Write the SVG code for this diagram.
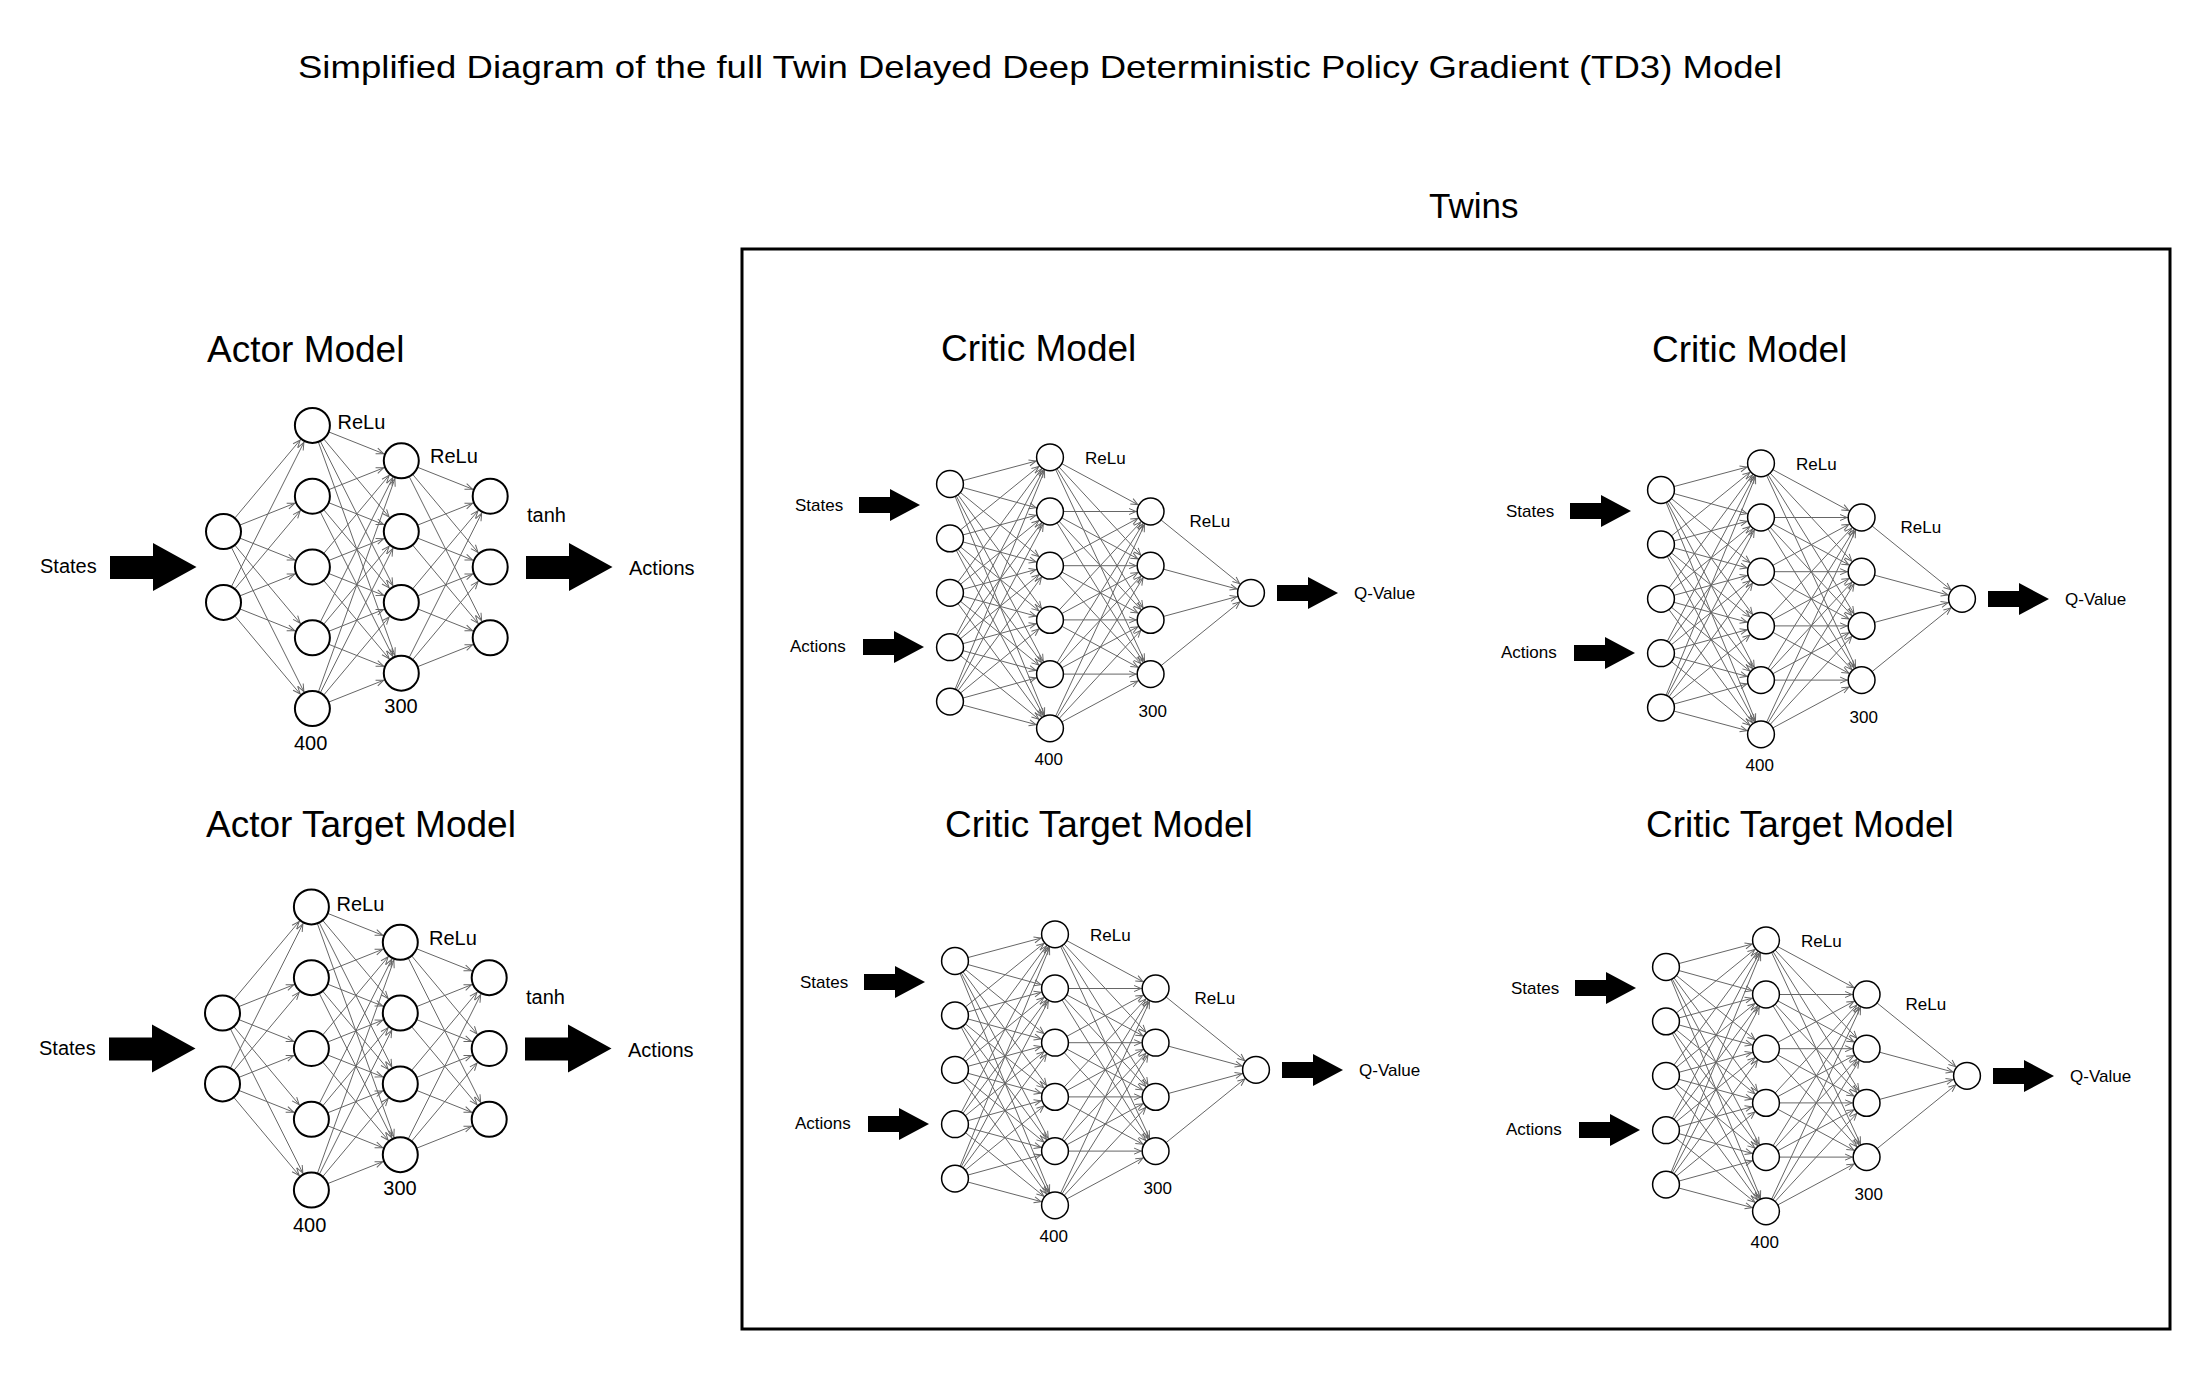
<svg xmlns="http://www.w3.org/2000/svg" width="2212" height="1386" viewBox="0 0 2212 1386">
<style>
text{font-family:"Liberation Sans",Arial,sans-serif;fill:#000}
.title{font-size:32px}
.head{font-size:37px}
.la{font-size:20px}
.lc{font-size:17px}
.conn path{stroke:#666;stroke-width:1;fill:none}
.ca path{marker-end:url(#ma)}
.cc path{marker-end:url(#mc)}
.na circle{fill:#fff;stroke:#000;stroke-width:2}
.nc circle{fill:#fff;stroke:#000;stroke-width:1.5}
.bigarrow{fill:#000}
</style>
<defs>
<marker id="ma" viewBox="-30 -6 30 12" markerWidth="30" markerHeight="12" refX="0" refY="0" orient="auto" markerUnits="userSpaceOnUse" overflow="visible">
<path d="M-26.5,-3 L-19,0 L-26.5,3" fill="none" stroke="#666" stroke-width="1"/>
</marker>
<marker id="mc" viewBox="-30 -6 30 12" markerWidth="30" markerHeight="12" refX="0" refY="0" orient="auto" markerUnits="userSpaceOnUse" overflow="visible">
<path d="M-21.5,-3 L-14.5,0 L-21.5,3" fill="none" stroke="#666" stroke-width="1"/>
</marker>
<polygon id="arA" points="110,556 153,556 153,543 196.5,567 153,591 153,579 110,579"/>
<polygon id="arC" points="0,-8 31,-8 31,-16 61,0 31,16 31,8 0,8"/>
</defs>
<rect width="2212" height="1386" fill="#fff"/>

<text class="title" x="298" y="78" textLength="1484" lengthAdjust="spacingAndGlyphs">Simplified Diagram of the full Twin Delayed Deep Deterministic Policy Gradient (TD3) Model</text>
<text class="head" x="1429" y="218" style="font-size:35px">Twins</text>
<rect id="twins-box" x="742" y="249" width="1428" height="1080" fill="none" stroke="#000" stroke-width="3"/>
<text class="head" x="207" y="362">Actor Model</text>
<text class="head" x="206" y="837">Actor Target Model</text>
<text class="head" x="941" y="361">Critic Model</text>
<text class="head" x="1652" y="362">Critic Model</text>
<text class="head" x="945" y="837">Critic Target Model</text>
<text class="head" x="1646" y="837">Critic Target Model</text>

<g id="connectors" class="conn">
<g id="actor-connectors" class="ca">
<path d="M223.5 531.6 312.4 425.4"/><path d="M223.5 531.6 312.4 496.2"/><path d="M223.5 531.6 312.4 567"/><path d="M223.5 531.6 312.4 637.8"/><path d="M223.5 531.6 312.4 708.6"/>
<path d="M223.5 602.4 312.4 425.4"/><path d="M223.5 602.4 312.4 496.2"/><path d="M223.5 602.4 312.4 567"/><path d="M223.5 602.4 312.4 637.8"/><path d="M223.5 602.4 312.4 708.6"/>
<path d="M312.4 425.4 401.3 460.8"/><path d="M312.4 425.4 401.3 531.6"/><path d="M312.4 425.4 401.3 602.4"/><path d="M312.4 425.4 401.3 673.2"/>
<path d="M312.4 496.2 401.3 460.8"/><path d="M312.4 496.2 401.3 531.6"/><path d="M312.4 496.2 401.3 602.4"/><path d="M312.4 496.2 401.3 673.2"/>
<path d="M312.4 567 401.3 460.8"/><path d="M312.4 567 401.3 531.6"/><path d="M312.4 567 401.3 602.4"/><path d="M312.4 567 401.3 673.2"/>
<path d="M312.4 637.8 401.3 460.8"/><path d="M312.4 637.8 401.3 531.6"/><path d="M312.4 637.8 401.3 602.4"/><path d="M312.4 637.8 401.3 673.2"/>
<path d="M312.4 708.6 401.3 460.8"/><path d="M312.4 708.6 401.3 531.6"/><path d="M312.4 708.6 401.3 602.4"/><path d="M312.4 708.6 401.3 673.2"/>
<path d="M401.3 460.8 490.2 496.2"/><path d="M401.3 460.8 490.2 567"/><path d="M401.3 460.8 490.2 637.8"/>
<path d="M401.3 531.6 490.2 496.2"/><path d="M401.3 531.6 490.2 567"/><path d="M401.3 531.6 490.2 637.8"/>
<path d="M401.3 602.4 490.2 496.2"/><path d="M401.3 602.4 490.2 567"/><path d="M401.3 602.4 490.2 637.8"/>
<path d="M401.3 673.2 490.2 496.2"/><path d="M401.3 673.2 490.2 567"/><path d="M401.3 673.2 490.2 637.8"/>
</g>
<g id="actor-target-connectors" class="ca" transform="translate(-1,481.5)">
<path d="M223.5 531.6 312.4 425.4"/><path d="M223.5 531.6 312.4 496.2"/><path d="M223.5 531.6 312.4 567"/><path d="M223.5 531.6 312.4 637.8"/><path d="M223.5 531.6 312.4 708.6"/>
<path d="M223.5 602.4 312.4 425.4"/><path d="M223.5 602.4 312.4 496.2"/><path d="M223.5 602.4 312.4 567"/><path d="M223.5 602.4 312.4 637.8"/><path d="M223.5 602.4 312.4 708.6"/>
<path d="M312.4 425.4 401.3 460.8"/><path d="M312.4 425.4 401.3 531.6"/><path d="M312.4 425.4 401.3 602.4"/><path d="M312.4 425.4 401.3 673.2"/>
<path d="M312.4 496.2 401.3 460.8"/><path d="M312.4 496.2 401.3 531.6"/><path d="M312.4 496.2 401.3 602.4"/><path d="M312.4 496.2 401.3 673.2"/>
<path d="M312.4 567 401.3 460.8"/><path d="M312.4 567 401.3 531.6"/><path d="M312.4 567 401.3 602.4"/><path d="M312.4 567 401.3 673.2"/>
<path d="M312.4 637.8 401.3 460.8"/><path d="M312.4 637.8 401.3 531.6"/><path d="M312.4 637.8 401.3 602.4"/><path d="M312.4 637.8 401.3 673.2"/>
<path d="M312.4 708.6 401.3 460.8"/><path d="M312.4 708.6 401.3 531.6"/><path d="M312.4 708.6 401.3 602.4"/><path d="M312.4 708.6 401.3 673.2"/>
<path d="M401.3 460.8 490.2 496.2"/><path d="M401.3 460.8 490.2 567"/><path d="M401.3 460.8 490.2 637.8"/>
<path d="M401.3 531.6 490.2 496.2"/><path d="M401.3 531.6 490.2 567"/><path d="M401.3 531.6 490.2 637.8"/>
<path d="M401.3 602.4 490.2 496.2"/><path d="M401.3 602.4 490.2 567"/><path d="M401.3 602.4 490.2 637.8"/>
<path d="M401.3 673.2 490.2 496.2"/><path d="M401.3 673.2 490.2 567"/><path d="M401.3 673.2 490.2 637.8"/>
</g>
<g id="critic1-connectors" class="cc">
<path d="M950 484 1050 457.3"/><path d="M950 484 1050 511.5"/><path d="M950 484 1050 565.7"/><path d="M950 484 1050 619.9"/><path d="M950 484 1050 674.1"/><path d="M950 484 1050 728.3"/>
<path d="M950 538.4 1050 457.3"/><path d="M950 538.4 1050 511.5"/><path d="M950 538.4 1050 565.7"/><path d="M950 538.4 1050 619.9"/><path d="M950 538.4 1050 674.1"/><path d="M950 538.4 1050 728.3"/>
<path d="M950 592.8 1050 457.3"/><path d="M950 592.8 1050 511.5"/><path d="M950 592.8 1050 565.7"/><path d="M950 592.8 1050 619.9"/><path d="M950 592.8 1050 674.1"/><path d="M950 592.8 1050 728.3"/>
<path d="M950 647.2 1050 457.3"/><path d="M950 647.2 1050 511.5"/><path d="M950 647.2 1050 565.7"/><path d="M950 647.2 1050 619.9"/><path d="M950 647.2 1050 674.1"/><path d="M950 647.2 1050 728.3"/>
<path d="M950 701.6 1050 457.3"/><path d="M950 701.6 1050 511.5"/><path d="M950 701.6 1050 565.7"/><path d="M950 701.6 1050 619.9"/><path d="M950 701.6 1050 674.1"/><path d="M950 701.6 1050 728.3"/>
<path d="M1050 457.3 1150.6 511.5"/><path d="M1050 457.3 1150.6 565.7"/><path d="M1050 457.3 1150.6 619.9"/><path d="M1050 457.3 1150.6 674.1"/>
<path d="M1050 511.5 1150.6 511.5"/><path d="M1050 511.5 1150.6 565.7"/><path d="M1050 511.5 1150.6 619.9"/><path d="M1050 511.5 1150.6 674.1"/>
<path d="M1050 565.7 1150.6 511.5"/><path d="M1050 565.7 1150.6 565.7"/><path d="M1050 565.7 1150.6 619.9"/><path d="M1050 565.7 1150.6 674.1"/>
<path d="M1050 619.9 1150.6 511.5"/><path d="M1050 619.9 1150.6 565.7"/><path d="M1050 619.9 1150.6 619.9"/><path d="M1050 619.9 1150.6 674.1"/>
<path d="M1050 674.1 1150.6 511.5"/><path d="M1050 674.1 1150.6 565.7"/><path d="M1050 674.1 1150.6 619.9"/><path d="M1050 674.1 1150.6 674.1"/>
<path d="M1050 728.3 1150.6 511.5"/><path d="M1050 728.3 1150.6 565.7"/><path d="M1050 728.3 1150.6 619.9"/><path d="M1050 728.3 1150.6 674.1"/>
<path d="M1150.6 511.5 1251 592.8"/><path d="M1150.6 565.7 1251 592.8"/><path d="M1150.6 619.9 1251 592.8"/><path d="M1150.6 674.1 1251 592.8"/>
</g>
<g id="critic2-connectors" class="cc" transform="translate(711,6)">
<path d="M950 484 1050 457.3"/><path d="M950 484 1050 511.5"/><path d="M950 484 1050 565.7"/><path d="M950 484 1050 619.9"/><path d="M950 484 1050 674.1"/><path d="M950 484 1050 728.3"/>
<path d="M950 538.4 1050 457.3"/><path d="M950 538.4 1050 511.5"/><path d="M950 538.4 1050 565.7"/><path d="M950 538.4 1050 619.9"/><path d="M950 538.4 1050 674.1"/><path d="M950 538.4 1050 728.3"/>
<path d="M950 592.8 1050 457.3"/><path d="M950 592.8 1050 511.5"/><path d="M950 592.8 1050 565.7"/><path d="M950 592.8 1050 619.9"/><path d="M950 592.8 1050 674.1"/><path d="M950 592.8 1050 728.3"/>
<path d="M950 647.2 1050 457.3"/><path d="M950 647.2 1050 511.5"/><path d="M950 647.2 1050 565.7"/><path d="M950 647.2 1050 619.9"/><path d="M950 647.2 1050 674.1"/><path d="M950 647.2 1050 728.3"/>
<path d="M950 701.6 1050 457.3"/><path d="M950 701.6 1050 511.5"/><path d="M950 701.6 1050 565.7"/><path d="M950 701.6 1050 619.9"/><path d="M950 701.6 1050 674.1"/><path d="M950 701.6 1050 728.3"/>
<path d="M1050 457.3 1150.6 511.5"/><path d="M1050 457.3 1150.6 565.7"/><path d="M1050 457.3 1150.6 619.9"/><path d="M1050 457.3 1150.6 674.1"/>
<path d="M1050 511.5 1150.6 511.5"/><path d="M1050 511.5 1150.6 565.7"/><path d="M1050 511.5 1150.6 619.9"/><path d="M1050 511.5 1150.6 674.1"/>
<path d="M1050 565.7 1150.6 511.5"/><path d="M1050 565.7 1150.6 565.7"/><path d="M1050 565.7 1150.6 619.9"/><path d="M1050 565.7 1150.6 674.1"/>
<path d="M1050 619.9 1150.6 511.5"/><path d="M1050 619.9 1150.6 565.7"/><path d="M1050 619.9 1150.6 619.9"/><path d="M1050 619.9 1150.6 674.1"/>
<path d="M1050 674.1 1150.6 511.5"/><path d="M1050 674.1 1150.6 565.7"/><path d="M1050 674.1 1150.6 619.9"/><path d="M1050 674.1 1150.6 674.1"/>
<path d="M1050 728.3 1150.6 511.5"/><path d="M1050 728.3 1150.6 565.7"/><path d="M1050 728.3 1150.6 619.9"/><path d="M1050 728.3 1150.6 674.1"/>
<path d="M1150.6 511.5 1251 592.8"/><path d="M1150.6 565.7 1251 592.8"/><path d="M1150.6 619.9 1251 592.8"/><path d="M1150.6 674.1 1251 592.8"/>
</g>
<g id="critic-target1-connectors" class="cc" transform="translate(5,477)">
<path d="M950 484 1050 457.3"/><path d="M950 484 1050 511.5"/><path d="M950 484 1050 565.7"/><path d="M950 484 1050 619.9"/><path d="M950 484 1050 674.1"/><path d="M950 484 1050 728.3"/>
<path d="M950 538.4 1050 457.3"/><path d="M950 538.4 1050 511.5"/><path d="M950 538.4 1050 565.7"/><path d="M950 538.4 1050 619.9"/><path d="M950 538.4 1050 674.1"/><path d="M950 538.4 1050 728.3"/>
<path d="M950 592.8 1050 457.3"/><path d="M950 592.8 1050 511.5"/><path d="M950 592.8 1050 565.7"/><path d="M950 592.8 1050 619.9"/><path d="M950 592.8 1050 674.1"/><path d="M950 592.8 1050 728.3"/>
<path d="M950 647.2 1050 457.3"/><path d="M950 647.2 1050 511.5"/><path d="M950 647.2 1050 565.7"/><path d="M950 647.2 1050 619.9"/><path d="M950 647.2 1050 674.1"/><path d="M950 647.2 1050 728.3"/>
<path d="M950 701.6 1050 457.3"/><path d="M950 701.6 1050 511.5"/><path d="M950 701.6 1050 565.7"/><path d="M950 701.6 1050 619.9"/><path d="M950 701.6 1050 674.1"/><path d="M950 701.6 1050 728.3"/>
<path d="M1050 457.3 1150.6 511.5"/><path d="M1050 457.3 1150.6 565.7"/><path d="M1050 457.3 1150.6 619.9"/><path d="M1050 457.3 1150.6 674.1"/>
<path d="M1050 511.5 1150.6 511.5"/><path d="M1050 511.5 1150.6 565.7"/><path d="M1050 511.5 1150.6 619.9"/><path d="M1050 511.5 1150.6 674.1"/>
<path d="M1050 565.7 1150.6 511.5"/><path d="M1050 565.7 1150.6 565.7"/><path d="M1050 565.7 1150.6 619.9"/><path d="M1050 565.7 1150.6 674.1"/>
<path d="M1050 619.9 1150.6 511.5"/><path d="M1050 619.9 1150.6 565.7"/><path d="M1050 619.9 1150.6 619.9"/><path d="M1050 619.9 1150.6 674.1"/>
<path d="M1050 674.1 1150.6 511.5"/><path d="M1050 674.1 1150.6 565.7"/><path d="M1050 674.1 1150.6 619.9"/><path d="M1050 674.1 1150.6 674.1"/>
<path d="M1050 728.3 1150.6 511.5"/><path d="M1050 728.3 1150.6 565.7"/><path d="M1050 728.3 1150.6 619.9"/><path d="M1050 728.3 1150.6 674.1"/>
<path d="M1150.6 511.5 1251 592.8"/><path d="M1150.6 565.7 1251 592.8"/><path d="M1150.6 619.9 1251 592.8"/><path d="M1150.6 674.1 1251 592.8"/>
</g>
<g id="critic-target2-connectors" class="cc" transform="translate(716,483)">
<path d="M950 484 1050 457.3"/><path d="M950 484 1050 511.5"/><path d="M950 484 1050 565.7"/><path d="M950 484 1050 619.9"/><path d="M950 484 1050 674.1"/><path d="M950 484 1050 728.3"/>
<path d="M950 538.4 1050 457.3"/><path d="M950 538.4 1050 511.5"/><path d="M950 538.4 1050 565.7"/><path d="M950 538.4 1050 619.9"/><path d="M950 538.4 1050 674.1"/><path d="M950 538.4 1050 728.3"/>
<path d="M950 592.8 1050 457.3"/><path d="M950 592.8 1050 511.5"/><path d="M950 592.8 1050 565.7"/><path d="M950 592.8 1050 619.9"/><path d="M950 592.8 1050 674.1"/><path d="M950 592.8 1050 728.3"/>
<path d="M950 647.2 1050 457.3"/><path d="M950 647.2 1050 511.5"/><path d="M950 647.2 1050 565.7"/><path d="M950 647.2 1050 619.9"/><path d="M950 647.2 1050 674.1"/><path d="M950 647.2 1050 728.3"/>
<path d="M950 701.6 1050 457.3"/><path d="M950 701.6 1050 511.5"/><path d="M950 701.6 1050 565.7"/><path d="M950 701.6 1050 619.9"/><path d="M950 701.6 1050 674.1"/><path d="M950 701.6 1050 728.3"/>
<path d="M1050 457.3 1150.6 511.5"/><path d="M1050 457.3 1150.6 565.7"/><path d="M1050 457.3 1150.6 619.9"/><path d="M1050 457.3 1150.6 674.1"/>
<path d="M1050 511.5 1150.6 511.5"/><path d="M1050 511.5 1150.6 565.7"/><path d="M1050 511.5 1150.6 619.9"/><path d="M1050 511.5 1150.6 674.1"/>
<path d="M1050 565.7 1150.6 511.5"/><path d="M1050 565.7 1150.6 565.7"/><path d="M1050 565.7 1150.6 619.9"/><path d="M1050 565.7 1150.6 674.1"/>
<path d="M1050 619.9 1150.6 511.5"/><path d="M1050 619.9 1150.6 565.7"/><path d="M1050 619.9 1150.6 619.9"/><path d="M1050 619.9 1150.6 674.1"/>
<path d="M1050 674.1 1150.6 511.5"/><path d="M1050 674.1 1150.6 565.7"/><path d="M1050 674.1 1150.6 619.9"/><path d="M1050 674.1 1150.6 674.1"/>
<path d="M1050 728.3 1150.6 511.5"/><path d="M1050 728.3 1150.6 565.7"/><path d="M1050 728.3 1150.6 619.9"/><path d="M1050 728.3 1150.6 674.1"/>
<path d="M1150.6 511.5 1251 592.8"/><path d="M1150.6 565.7 1251 592.8"/><path d="M1150.6 619.9 1251 592.8"/><path d="M1150.6 674.1 1251 592.8"/>
</g>
</g>

<!-- Actor Model -->
<g id="actor" class="na">
<g id="actor-in1"><circle cx="223.5" cy="531.6" r="17.5"/></g>
<g id="actor-in2"><circle cx="223.5" cy="602.4" r="17.5"/></g>
<g id="actor-h1-1"><circle cx="312.4" cy="425.4" r="17.5"/></g>
<g id="actor-h1-2"><circle cx="312.4" cy="496.2" r="17.5"/></g>
<g id="actor-h1-3"><circle cx="312.4" cy="567" r="17.5"/></g>
<g id="actor-h1-4"><circle cx="312.4" cy="637.8" r="17.5"/></g>
<g id="actor-h1-5"><circle cx="312.4" cy="708.6" r="17.5"/></g>
<g id="actor-h2-1"><circle cx="401.3" cy="460.8" r="17.5"/></g>
<g id="actor-h2-2"><circle cx="401.3" cy="531.6" r="17.5"/></g>
<g id="actor-h2-3"><circle cx="401.3" cy="602.4" r="17.5"/></g>
<g id="actor-h2-4"><circle cx="401.3" cy="673.2" r="17.5"/></g>
<g id="actor-out1"><circle cx="490.2" cy="496.2" r="17.5"/></g>
<g id="actor-out2"><circle cx="490.2" cy="567" r="17.5"/></g>
<g id="actor-out3"><circle cx="490.2" cy="637.8" r="17.5"/></g>
<use href="#arA" class="bigarrow"/>
<use href="#arA" class="bigarrow" transform="translate(416,0)"/>
<text class="la" x="40" y="573">States</text>
<text class="la" x="629" y="575">Actions</text>
<text class="la" x="527" y="522">tanh</text>
<text class="la" x="337.5" y="429">ReLu</text>
<text class="la" x="430" y="463">ReLu</text>
<text class="la" x="384.3" y="713">300</text>
<text class="la" x="294" y="750">400</text>
</g>

<!-- Actor Target Model -->
<g id="actor-target" class="na" transform="translate(-1,481.5)">
<g id="actorT-in1"><circle cx="223.5" cy="531.6" r="17.5"/></g>
<g id="actorT-in2"><circle cx="223.5" cy="602.4" r="17.5"/></g>
<g id="actorT-h1-1"><circle cx="312.4" cy="425.4" r="17.5"/></g>
<g id="actorT-h1-2"><circle cx="312.4" cy="496.2" r="17.5"/></g>
<g id="actorT-h1-3"><circle cx="312.4" cy="567" r="17.5"/></g>
<g id="actorT-h1-4"><circle cx="312.4" cy="637.8" r="17.5"/></g>
<g id="actorT-h1-5"><circle cx="312.4" cy="708.6" r="17.5"/></g>
<g id="actorT-h2-1"><circle cx="401.3" cy="460.8" r="17.5"/></g>
<g id="actorT-h2-2"><circle cx="401.3" cy="531.6" r="17.5"/></g>
<g id="actorT-h2-3"><circle cx="401.3" cy="602.4" r="17.5"/></g>
<g id="actorT-h2-4"><circle cx="401.3" cy="673.2" r="17.5"/></g>
<g id="actorT-out1"><circle cx="490.2" cy="496.2" r="17.5"/></g>
<g id="actorT-out2"><circle cx="490.2" cy="567" r="17.5"/></g>
<g id="actorT-out3"><circle cx="490.2" cy="637.8" r="17.5"/></g>
<use href="#arA" class="bigarrow"/>
<use href="#arA" class="bigarrow" transform="translate(416,0)"/>
<text class="la" x="40" y="573">States</text>
<text class="la" x="629" y="575">Actions</text>
<text class="la" x="527" y="522">tanh</text>
<text class="la" x="337.5" y="429">ReLu</text>
<text class="la" x="430" y="463">ReLu</text>
<text class="la" x="384.3" y="713">300</text>
<text class="la" x="294" y="750">400</text>
</g>

<!-- Critic Model 1 -->
<g id="critic1" class="nc">
<g id="c1-in1"><circle cx="950" cy="484" r="13.4"/></g>
<g id="c1-in2"><circle cx="950" cy="538.4" r="13.4"/></g>
<g id="c1-in3"><circle cx="950" cy="592.8" r="13.4"/></g>
<g id="c1-in4"><circle cx="950" cy="647.2" r="13.4"/></g>
<g id="c1-in5"><circle cx="950" cy="701.6" r="13.4"/></g>
<g id="c1-h1-1"><circle cx="1050" cy="457.3" r="13.4"/></g>
<g id="c1-h1-2"><circle cx="1050" cy="511.5" r="13.4"/></g>
<g id="c1-h1-3"><circle cx="1050" cy="565.7" r="13.4"/></g>
<g id="c1-h1-4"><circle cx="1050" cy="619.9" r="13.4"/></g>
<g id="c1-h1-5"><circle cx="1050" cy="674.1" r="13.4"/></g>
<g id="c1-h1-6"><circle cx="1050" cy="728.3" r="13.4"/></g>
<g id="c1-h2-1"><circle cx="1150.6" cy="511.5" r="13.4"/></g>
<g id="c1-h2-2"><circle cx="1150.6" cy="565.7" r="13.4"/></g>
<g id="c1-h2-3"><circle cx="1150.6" cy="619.9" r="13.4"/></g>
<g id="c1-h2-4"><circle cx="1150.6" cy="674.1" r="13.4"/></g>
<g id="c1-out"><circle cx="1251" cy="592.8" r="13.4"/></g>
<use href="#arC" class="bigarrow" transform="translate(859,505)"/>
<use href="#arC" class="bigarrow" transform="translate(863,647)"/>
<use href="#arC" class="bigarrow" transform="translate(1277,593)"/>
<text class="lc" x="795" y="511">States</text>
<text class="lc" x="790" y="652">Actions</text>
<text class="lc" x="1085" y="464">ReLu</text>
<text class="lc" x="1189.5" y="527">ReLu</text>
<text class="lc" x="1138.6" y="717">300</text>
<text class="lc" x="1034.5" y="765">400</text>
<text class="lc" x="1354" y="599">Q-Value</text>
</g>

<!-- Critic Model 2 -->
<g id="critic2" class="nc" transform="translate(711,6)">
<g id="c2-in1"><circle cx="950" cy="484" r="13.4"/></g>
<g id="c2-in2"><circle cx="950" cy="538.4" r="13.4"/></g>
<g id="c2-in3"><circle cx="950" cy="592.8" r="13.4"/></g>
<g id="c2-in4"><circle cx="950" cy="647.2" r="13.4"/></g>
<g id="c2-in5"><circle cx="950" cy="701.6" r="13.4"/></g>
<g id="c2-h1-1"><circle cx="1050" cy="457.3" r="13.4"/></g>
<g id="c2-h1-2"><circle cx="1050" cy="511.5" r="13.4"/></g>
<g id="c2-h1-3"><circle cx="1050" cy="565.7" r="13.4"/></g>
<g id="c2-h1-4"><circle cx="1050" cy="619.9" r="13.4"/></g>
<g id="c2-h1-5"><circle cx="1050" cy="674.1" r="13.4"/></g>
<g id="c2-h1-6"><circle cx="1050" cy="728.3" r="13.4"/></g>
<g id="c2-h2-1"><circle cx="1150.6" cy="511.5" r="13.4"/></g>
<g id="c2-h2-2"><circle cx="1150.6" cy="565.7" r="13.4"/></g>
<g id="c2-h2-3"><circle cx="1150.6" cy="619.9" r="13.4"/></g>
<g id="c2-h2-4"><circle cx="1150.6" cy="674.1" r="13.4"/></g>
<g id="c2-out"><circle cx="1251" cy="592.8" r="13.4"/></g>
<use href="#arC" class="bigarrow" transform="translate(859,505)"/>
<use href="#arC" class="bigarrow" transform="translate(863,647)"/>
<use href="#arC" class="bigarrow" transform="translate(1277,593)"/>
<text class="lc" x="795" y="511">States</text>
<text class="lc" x="790" y="652">Actions</text>
<text class="lc" x="1085" y="464">ReLu</text>
<text class="lc" x="1189.5" y="527">ReLu</text>
<text class="lc" x="1138.6" y="717">300</text>
<text class="lc" x="1034.5" y="765">400</text>
<text class="lc" x="1354" y="599">Q-Value</text>
</g>

<!-- Critic Target Model 1 -->
<g id="critic-target1" class="nc" transform="translate(5,477)">
<g id="ct1-in1"><circle cx="950" cy="484" r="13.4"/></g>
<g id="ct1-in2"><circle cx="950" cy="538.4" r="13.4"/></g>
<g id="ct1-in3"><circle cx="950" cy="592.8" r="13.4"/></g>
<g id="ct1-in4"><circle cx="950" cy="647.2" r="13.4"/></g>
<g id="ct1-in5"><circle cx="950" cy="701.6" r="13.4"/></g>
<g id="ct1-h1-1"><circle cx="1050" cy="457.3" r="13.4"/></g>
<g id="ct1-h1-2"><circle cx="1050" cy="511.5" r="13.4"/></g>
<g id="ct1-h1-3"><circle cx="1050" cy="565.7" r="13.4"/></g>
<g id="ct1-h1-4"><circle cx="1050" cy="619.9" r="13.4"/></g>
<g id="ct1-h1-5"><circle cx="1050" cy="674.1" r="13.4"/></g>
<g id="ct1-h1-6"><circle cx="1050" cy="728.3" r="13.4"/></g>
<g id="ct1-h2-1"><circle cx="1150.6" cy="511.5" r="13.4"/></g>
<g id="ct1-h2-2"><circle cx="1150.6" cy="565.7" r="13.4"/></g>
<g id="ct1-h2-3"><circle cx="1150.6" cy="619.9" r="13.4"/></g>
<g id="ct1-h2-4"><circle cx="1150.6" cy="674.1" r="13.4"/></g>
<g id="ct1-out"><circle cx="1251" cy="592.8" r="13.4"/></g>
<use href="#arC" class="bigarrow" transform="translate(859,505)"/>
<use href="#arC" class="bigarrow" transform="translate(863,647)"/>
<use href="#arC" class="bigarrow" transform="translate(1277,593)"/>
<text class="lc" x="795" y="511">States</text>
<text class="lc" x="790" y="652">Actions</text>
<text class="lc" x="1085" y="464">ReLu</text>
<text class="lc" x="1189.5" y="527">ReLu</text>
<text class="lc" x="1138.6" y="717">300</text>
<text class="lc" x="1034.5" y="765">400</text>
<text class="lc" x="1354" y="599">Q-Value</text>
</g>

<!-- Critic Target Model 2 -->
<g id="critic-target2" class="nc" transform="translate(716,483)">
<g id="ct2-in1"><circle cx="950" cy="484" r="13.4"/></g>
<g id="ct2-in2"><circle cx="950" cy="538.4" r="13.4"/></g>
<g id="ct2-in3"><circle cx="950" cy="592.8" r="13.4"/></g>
<g id="ct2-in4"><circle cx="950" cy="647.2" r="13.4"/></g>
<g id="ct2-in5"><circle cx="950" cy="701.6" r="13.4"/></g>
<g id="ct2-h1-1"><circle cx="1050" cy="457.3" r="13.4"/></g>
<g id="ct2-h1-2"><circle cx="1050" cy="511.5" r="13.4"/></g>
<g id="ct2-h1-3"><circle cx="1050" cy="565.7" r="13.4"/></g>
<g id="ct2-h1-4"><circle cx="1050" cy="619.9" r="13.4"/></g>
<g id="ct2-h1-5"><circle cx="1050" cy="674.1" r="13.4"/></g>
<g id="ct2-h1-6"><circle cx="1050" cy="728.3" r="13.4"/></g>
<g id="ct2-h2-1"><circle cx="1150.6" cy="511.5" r="13.4"/></g>
<g id="ct2-h2-2"><circle cx="1150.6" cy="565.7" r="13.4"/></g>
<g id="ct2-h2-3"><circle cx="1150.6" cy="619.9" r="13.4"/></g>
<g id="ct2-h2-4"><circle cx="1150.6" cy="674.1" r="13.4"/></g>
<g id="ct2-out"><circle cx="1251" cy="592.8" r="13.4"/></g>
<use href="#arC" class="bigarrow" transform="translate(859,505)"/>
<use href="#arC" class="bigarrow" transform="translate(863,647)"/>
<use href="#arC" class="bigarrow" transform="translate(1277,593)"/>
<text class="lc" x="795" y="511">States</text>
<text class="lc" x="790" y="652">Actions</text>
<text class="lc" x="1085" y="464">ReLu</text>
<text class="lc" x="1189.5" y="527">ReLu</text>
<text class="lc" x="1138.6" y="717">300</text>
<text class="lc" x="1034.5" y="765">400</text>
<text class="lc" x="1354" y="599">Q-Value</text>
</g>
</svg>
